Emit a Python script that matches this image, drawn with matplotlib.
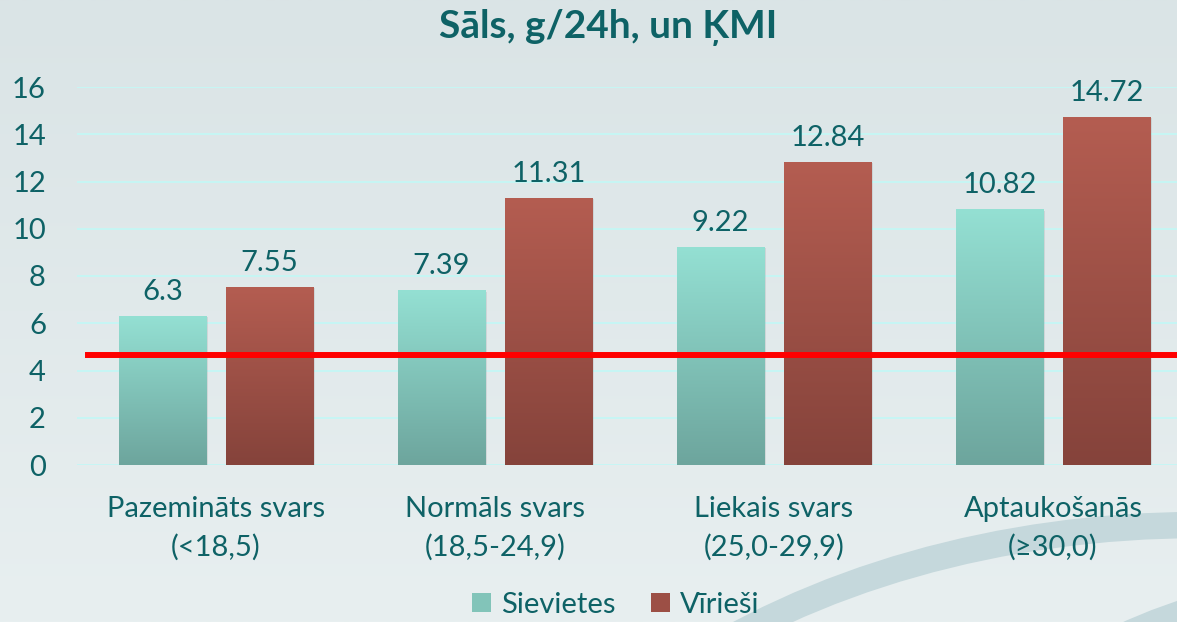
import numpy as np
import matplotlib
matplotlib.use("Agg")
import matplotlib.pyplot as plt
from matplotlib.patches import Ellipse, Rectangle
from matplotlib.colors import LinearSegmentedColormap

# ---- data ----
categories = ["Pazemināts svars\n(<18,5)", "Normāls svars\n(18,5-24,9)",
              "Liekais svars\n(25,0-29,9)", "Aptaukošanās\n(≥30,0)"]
sievietes = [6.3, 7.39, 9.22, 10.82]
viriesi = [7.55, 11.31, 12.84, 14.72]
series_names = ["Sievietes", "Vīrieši"]
reference_level = 4.66
yticks = [0, 2, 4, 6, 8, 10, 12, 14, 16]
title = "Sāls, g/24h, un ĶMI"

plt.rcParams['font.family'] = ['Lato', 'DejaVu Sans']
TXT = "#0e6266"
FS = 21
W, H = 1177, 622
fig = plt.figure(figsize=(W / 100, H / 100), dpi=100)

# background gradient + decorative arcs
bg = fig.add_axes([0, 0, 1, 1], zorder=-10)
bg.set_xlim(0, W); bg.set_ylim(H, 0); bg.axis("off")
grad = np.linspace(0, 1, 256).reshape(-1, 1)
bg_cmap = LinearSegmentedColormap.from_list("bg", ["#dae4e6", "#e8eff0"])
bg.imshow(grad, cmap=bg_cmap, extent=[0, W, H, 0], aspect="auto")
bg.add_patch(Ellipse((1200, 1040), 1500, 1030, fill=False, ec="#c5d8dc", lw=19))
bg.add_patch(Ellipse((1350, 1125), 1080, 1080, fill=False, ec="#c5d8dc", lw=17))

ax_left, ax_right = 76.5, 1192.5
ax_top, ax_bot = 87, 465
ax = fig.add_axes([ax_left / W, (H - ax_bot) / H, (ax_right - ax_left) / W, (ax_bot - ax_top) / H])
ax.patch.set_alpha(0)

x = np.arange(len(categories))
bw = 0.312
off = 0.192

def grad_bars(bars, top_c, bot_c):
    cm = LinearSegmentedColormap.from_list("g", [bot_c, top_c])
    g = np.linspace(0, 1, 256).reshape(-1, 1)
    for b in bars:
        x0, w, h = b.get_x(), b.get_width(), b.get_height()
        ax.add_patch(Rectangle((x0 + 0.006, -0.05), w, h, fc="#000000", alpha=0.08, zorder=2, lw=0))
        im = ax.imshow(g, cmap=cm, extent=[x0, x0 + w, 0, h], aspect="auto", origin="lower", zorder=3)
        im.set_clip_path(b)
        b.set_facecolor("none")

b1 = ax.bar(x - off, sievietes, bw, color="#8fd9cc", lw=0, zorder=3)
b2 = ax.bar(x + off, viriesi, bw, color="#a9584c", lw=0, zorder=3)
grad_bars(b1, "#94e0d3", "#6da59d")
grad_bars(b2, "#b45d51", "#85433b")
ax.set_xlim(-0.5, 3.5)
ax.set_ylim(0, 16)

for xs, vals in ((x - off, sievietes), (x + off, viriesi)):
    for xi, v in zip(xs, vals):
        ax.annotate(f"{v:g}", (xi, v), xytext=(0, 11.5), textcoords="offset points",
                    ha="center", va="baseline", fontsize=FS, color=TXT)

ax.axhline(reference_level, xmin=(88 - ax_left) / (ax_right - ax_left), xmax=1, color="#ff0000", lw=4.3, zorder=5)

ax.set_yticks(yticks)
ax.set_yticklabels([str(t) for t in yticks], fontsize=FS, color=TXT)
ax.yaxis.grid(True, color="#c4f7f5", lw=1.3, zorder=0)
ax.set_axisbelow(True)
ax.tick_params(axis="y", length=0, pad=22)
ax.tick_params(axis="x", length=0, pad=22)
ax.set_xticks(x)
ax.set_xticklabels(categories, fontsize=FS, color=TXT, linespacing=1.55)
for s in ax.spines.values():
    s.set_visible(False)

fig.text(608 / W, 1 - 28 / H, title, ha="center", va="center", fontsize=28, fontweight="bold", color=TXT)

handles = [Rectangle((0, 0), 1, 1, fc="#82c4b9"), Rectangle((0, 0), 1, 1, fc="#9c4f45")]
fig.legend(handles, series_names, loc="center", bbox_to_anchor=(616 / W, 1 - 605 / H), ncol=2,
           frameon=False, fontsize=FS, labelcolor=TXT, handlelength=0.65, handleheight=0.65,
           handletextpad=0.35, columnspacing=1.2)

fig.savefig("out.png", dpi=100)
